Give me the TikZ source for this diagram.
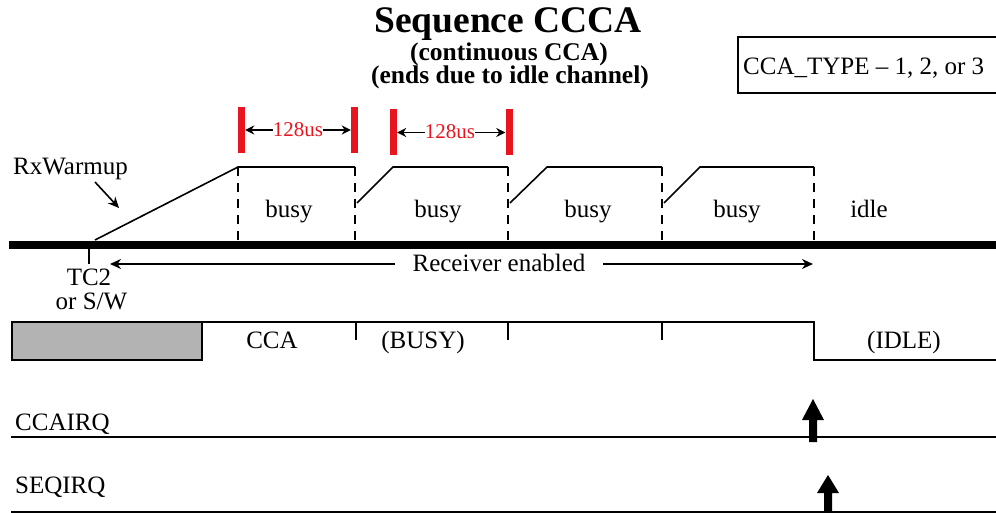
\documentclass[tikz,border=0pt]{standalone}
\usepackage{fontspec}
\setmainfont{Liberation Serif}
\usetikzlibrary{arrows.meta}
\definecolor{mred}{HTML}{E8151F}
\definecolor{boxgray}{HTML}{B3B3B3}
\begin{document}
\begin{tikzpicture}[x=1pt,y=-1pt,
  lbl/.style={font=\fontsize{25}{30}\selectfont, inner sep=0pt, anchor=base},
  ttl/.style={font=\fontsize{37.5}{40}\selectfont\bfseries, inner sep=0pt, anchor=base},
  sub/.style={font=\fontsize{25.5}{30}\selectfont\bfseries, inner sep=0pt, anchor=base},
  dim/.style={font=\fontsize{21}{24}\selectfont, text=mred, fill=white, inner sep=0pt},
  thinl/.style={line width=1.6pt},
  dashline/.style={line width=1.8pt, dash pattern=on 9pt off 7pt},
  redbar/.style={fill=mred, minimum width=7pt, minimum height=46pt, inner sep=0pt, draw=none},
  dimarrow/.style={line width=1.5pt, {Stealth[length=9pt,width=9pt]}-{Stealth[length=9pt,width=9pt]}},
  ptr/.style={thinl, -{Stealth[length=11pt,width=10pt]}}]
\useasboundingbox (0,0) rectangle (996,513);
\clip (0,0) rectangle (996,513);

% titles
\node[ttl] (title) at (508,33) {Sequence CCCA};
\node[sub] (sub1) at (509,61) {(continuous CCA)};
\node[sub] (sub2) at (510,84) {(ends due to idle channel)};

% CCA_TYPE box
\draw[thinl] (738,37) rectangle (1010,93);
\node[lbl, anchor=base west] (cfg) at (743,75) {CCA\_TYPE – 1, 2, or 3};

% red markers and 128us dimensions
\node[redbar] (m1) at (241.5,130) {};
\node[redbar] (m2) at (354.5,130) {};
\node[redbar] (m3) at (393.5,132.5) {};
\node[redbar] (m4) at (509,132.5) {};
\draw[dimarrow] (m1.east) -- (m2.west);
\draw[dimarrow] (m3.east) -- (m4.west);
\node[dim] (d1) at (298,130) {128us};
\node[dim] (d2) at (450,132) {128us};

% RxWarmup
\node[lbl, anchor=base west] (rx) at (13,175) {RxWarmup};
\coordinate (rxa) at (95,182);
\coordinate (rxb) at (119,208);
\draw[ptr] (rxa) -- (rxb);

% waveform
\coordinate (w0) at (95,240);
\coordinate (t1) at (238,167);
\coordinate (t2) at (355,167);
\draw[thinl] (w0) -- (t1) -- (t2);
\draw[thinl] (357,203) -- (393,167) -- (508,167);
\draw[thinl] (510,203) -- (547,167) -- (662,167);
\draw[thinl] (664,203) -- (700,167) -- (814,167);
\foreach \x in {238,355,508,662,814}{\draw[dashline] (\x,167) -- (\x,245);}

\node[lbl] (b1) at (289,218) {busy};
\node[lbl] (b2) at (438,218) {busy};
\node[lbl] (b3) at (588,218) {busy};
\node[lbl] (b4) at (737,218) {busy};
\node[lbl] (idle) at (869,218) {idle};

% thick baseline
\draw[line width=8pt] (9,245) -- (1000,245);

% TC2 tick and receiver enabled
\draw[thinl] (89,245) -- (89,264);
\node[lbl] (tc2) at (89,285) {TC2};
\node[lbl] (sw) at (91.5,309) {or S/W};
\node[lbl] (recv) at (499,272) {Receiver enabled};
\coordinate (ra) at (395,264);
\coordinate (rb) at (110,264);
\coordinate (rc) at (603,264);
\coordinate (rd) at (813,264);
\draw[ptr] (ra) -- (rb);
\draw[ptr] (rc) -- (rd);

% CCA state line
\filldraw[fill=boxgray, thinl] (12,322) rectangle (202,360);
\draw[thinl] (202,322) -- (814,322) -- (814,360) -- (1000,360);
\foreach \x in {356,508,662}{\draw[thinl] (\x,322) -- (\x,340);}
\node[lbl] (cca) at (272,348) {CCA};
\node[lbl] (busy) at (423,348) {(BUSY)};
\node[lbl] (idl) at (904,348) {(IDLE)};

% IRQ lines
\node[lbl, anchor=base west] (ccairq) at (15,430) {CCAIRQ};
\draw[thinl] (11,437) -- (1000,437);
\fill (809,442) -- (809,420) -- (802,420) -- (813,399) -- (824,420) -- (817,420) -- (817,442) -- cycle;

\node[lbl, anchor=base west] (seqirq) at (15,493) {SEQIRQ};
\draw[thinl] (11,512) -- (1000,512);
\fill (824,515) -- (824,493) -- (817,493) -- (828,475) -- (839,493) -- (832,493) -- (832,515) -- cycle;
\end{tikzpicture}
\end{document}
